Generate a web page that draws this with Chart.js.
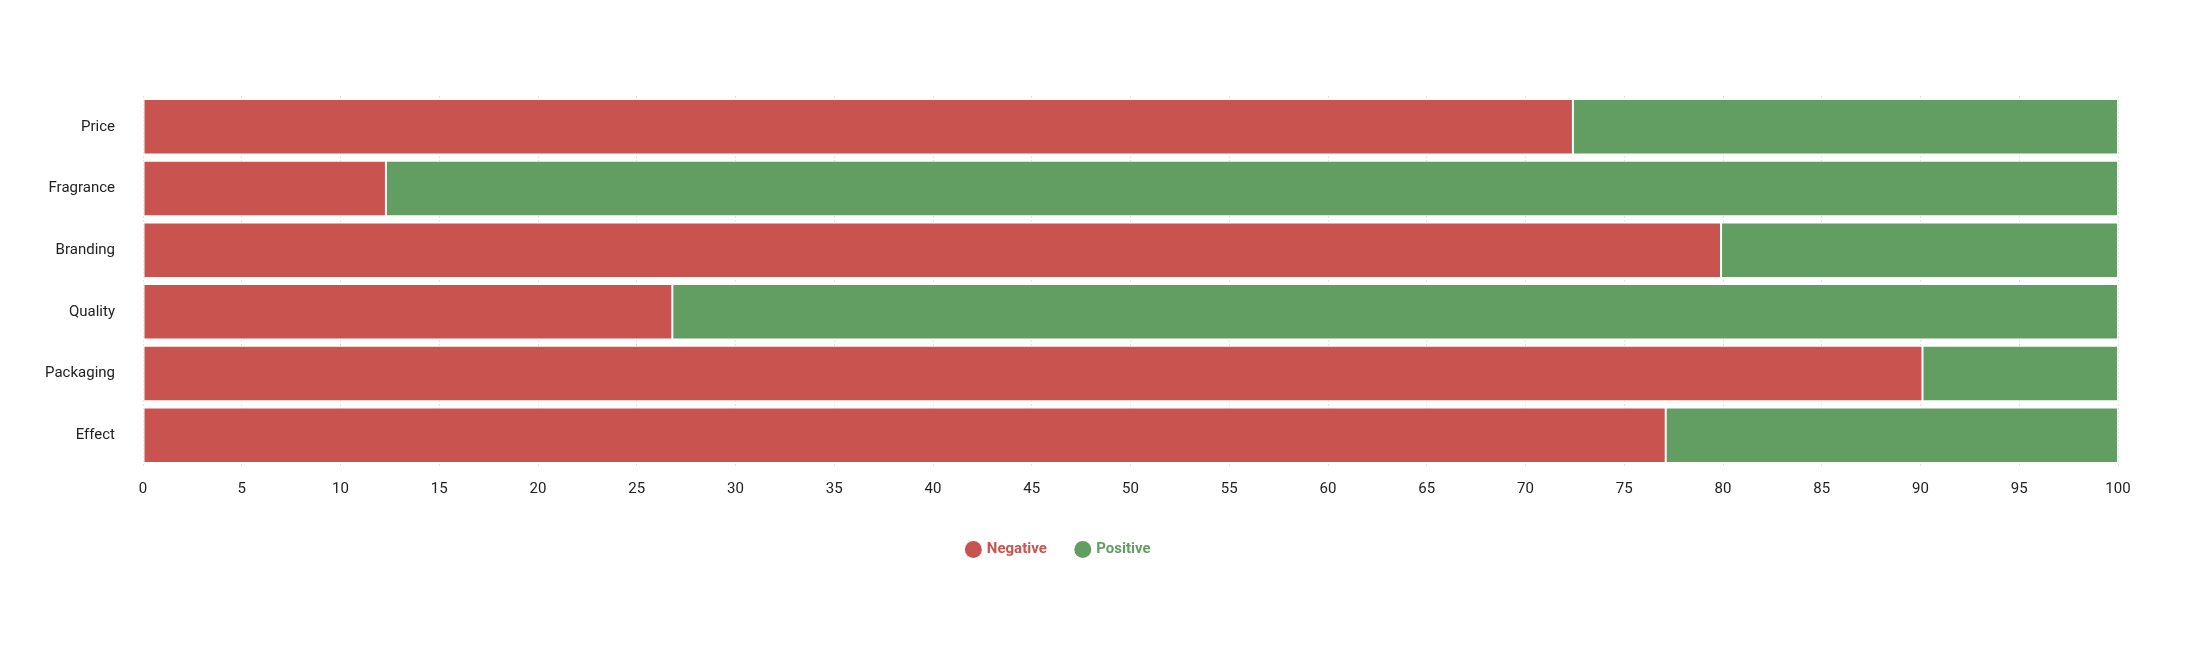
<!DOCTYPE html>
<html>
<head>
<meta charset="utf-8">
<script src="https://cdn.jsdelivr.net/npm/chart.js@4/dist/chart.umd.min.js"></script>
<style>
  html, body { margin: 0; padding: 0; background: #fff; }
  #wrap { width: 2200px; height: 645px; }
</style>
</head>
<body>
<div id="wrap"><canvas id="chart"></canvas></div>
<script>
const categories = ['Price', 'Fragrance', 'Branding', 'Quality', 'Packaging', 'Effect'];
const negative = [72.4, 12.3, 79.9, 26.8, 90.1, 77.1];
const positive = [27.6, 87.7, 20.1, 73.2, 9.9, 22.9];
const xTicks = [0, 5, 10, 15, 20, 25, 30, 35, 40, 45, 50, 55, 60, 65, 70, 75, 80, 85, 90, 95, 100];

const RED = '#c9534f';
const GREEN = '#629e61';

Chart.defaults.font.family = 'Roboto, sans-serif';
Chart.defaults.font.size = 15;
Chart.defaults.color = '#222';

new Chart(document.getElementById('chart'), {
  type: 'bar',
  data: {
    labels: categories,
    datasets: [
      { label: 'Negative', data: negative, backgroundColor: RED, borderColor: '#fff', borderWidth: 1, borderSkipped: false },
      { label: 'Positive', data: positive, backgroundColor: GREEN, borderColor: '#fff', borderWidth: 1, borderSkipped: false }
    ]
  },
  options: {
    indexAxis: 'y',
    responsive: true,
    maintainAspectRatio: false,
    animation: false,
    layout: { padding: { top: 96, right: 82, bottom: 78, left: 0 } },
    datasets: { bar: { barPercentage: 0.9, categoryPercentage: 1 } },
    plugins: {
      tooltip: { enabled: false },
      legend: {
        position: 'bottom',
        labels: {
          usePointStyle: true,
          pointStyle: 'circle',
          boxWidth: 12,
          boxHeight: 12,
          padding: 30,
          font: { size: 15, weight: 'bold' },
          generateLabels(chart) {
            return chart.data.datasets.map((ds, i) => ({
              text: ds.label,
              fillStyle: ds.backgroundColor,
              strokeStyle: ds.backgroundColor,
              fontColor: ds.backgroundColor,
              pointStyle: 'circle',
              lineWidth: 0,
              datasetIndex: i
            }));
          }
        }
      }
    },
    scales: {
      x: {
        stacked: true,
        min: 0,
        max: 100,
        afterBuildTicks(axis) { axis.ticks = xTicks.map(v => ({ value: v })); },
        grid: { color: '#e4e4e4', borderDash: [2, 2], drawTicks: false },
        border: { display: false, dash: [2, 2] },
        ticks: { padding: 14, color: '#222' }
      },
      y: {
        stacked: true,
        afterFit(axis) { axis.width = 143; },
        grid: { display: false },
        border: { display: false },
        ticks: { padding: 20, color: '#222' }
      }
    }
  }
});
</script>
</body>
</html>
